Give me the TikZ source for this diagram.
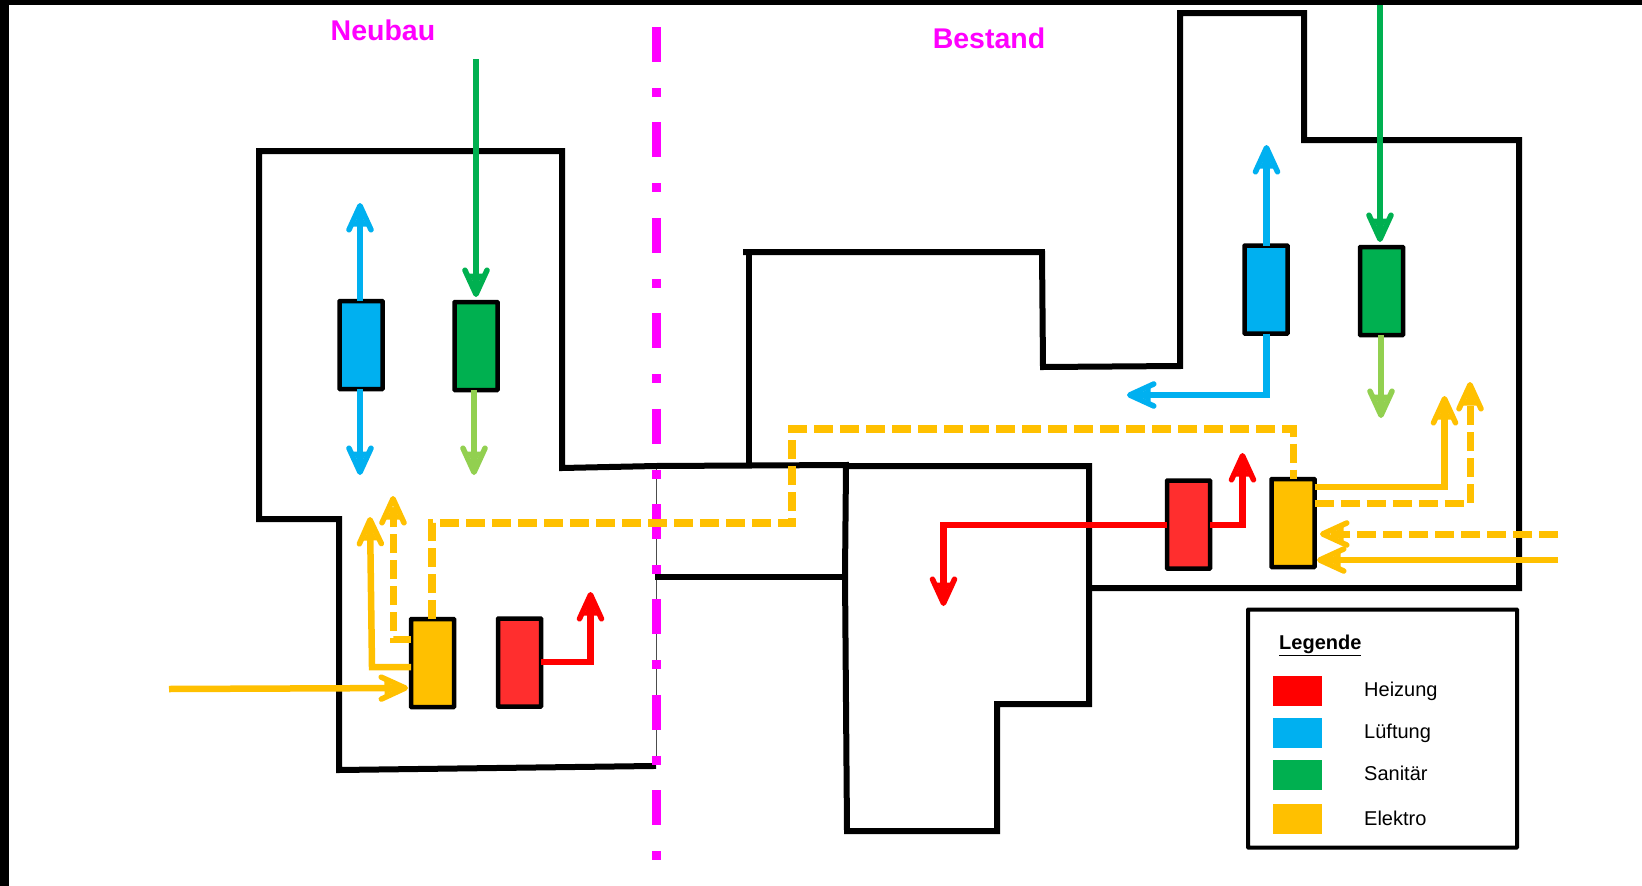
\documentclass[tikz,border=0pt]{standalone}
\usepackage{fontspec}
\setmainfont{Liberation Sans}
\usetikzlibrary{arrows.meta}
\definecolor{cBlue}{HTML}{00B0F0}
\definecolor{cGreen}{HTML}{00B050}
\definecolor{cLime}{HTML}{92D050}
\definecolor{cOrange}{HTML}{FFC000}
\definecolor{cRed}{HTML}{FF0000}
\definecolor{cRedBox}{HTML}{FF2E2E}
\definecolor{cMag}{HTML}{FF00FF}
\tikzset{
  wall/.style={line width=6pt,line join=miter,line cap=rect},
  unit/.style={draw=black,line width=4.5pt,rounded corners=0.5pt,inner sep=0pt,outer sep=0pt,minimum width=43pt,minimum height=88pt},
  pipe/.style={line width=6.5pt,line join=miter,-{Stealth[length=14pt,width=13pt,inset=0pt,sep=-20pt]Straight Barb[length=24pt,width=22pt,line width=5.5pt,round]}},
  edash/.style={dash pattern=on 19pt off 7pt},
  swatch/.style={inner sep=0pt,outer sep=0pt,minimum width=49pt,minimum height=30pt},
  legtext/.style={anchor=west,inner sep=0pt,font=\fontsize{20}{24}\selectfont},
  region/.style={text=cMag,inner sep=0pt,font=\bfseries\fontsize{28.5}{32}\selectfont}
}
\begin{document}
\begin{tikzpicture}[x=1pt,y=-1pt]
\path[use as bounding box,fill=white] (0,0) rectangle (1642,886);
\fill[black] (0,0) rectangle (9,886);
\fill[black] (0,0) rectangle (1642,4.7);
% thin line under the boundary
\draw[black!70,line width=1.2pt] (656.5,466) -- (656.5,765);
% walls
\draw[wall] (653,766) -- (339,770) -- (339,519) -- (259,519) -- (259,151) -- (561,151);
\draw[wall] (562,151) -- (562,468) -- (656,466) -- (846,465);
\draw[wall] (749,465) -- (749,252);
\draw[wall] (746,252) -- (1042,252) -- (1043,367) -- (1180,366) -- (1180,13) -- (1304,13) -- (1304,140) -- (1519,140) -- (1519,588) -- (1090,588);
\draw[wall] (846,466) -- (1089,466) -- (1089,704) -- (997,704) -- (997,831) -- (847,831) -- (845,575) -- cycle;
\draw[wall] (658,577) -- (845,577);
% boundary
\coordinate (bTop) at (656.5,27);
\coordinate (bEnd) at (656.5,861);
\draw[cMag,line width=8.5pt,dash pattern=on 35pt off 26pt on 9pt off 25.4pt] (bTop) -- (bEnd);
% labels
\node[region] (neubau) at (383,30) {Neubau};
\node[region] (bestand) at (989,38) {Bestand};
% units
\node[unit,fill=cBlue] (blueL) at (361,345) {};
\node[unit,fill=cGreen] (greenL) at (476,346) {};
\node[unit,fill=cOrange] (orangeL) at (432.5,663) {};
\node[unit,fill=cRedBox] (redL) at (519.5,662.5) {};
\node[unit,fill=cBlue] (blueR) at (1266,289.5) {};
\node[unit,fill=cGreen] (greenR) at (1381.5,291) {};
\node[unit,fill=cRedBox] (redR) at (1188.5,524.5) {};
\node[unit,fill=cOrange] (orangeR) at (1293,523) {};
% coordinates
\coordinate (a1) at (360,203);
\coordinate (a2) at (360,475);
\coordinate (a3s) at (476,59);
\coordinate (a3t) at (476,297);
\coordinate (a4) at (474,475);
\coordinate (e0) at (169,689);
\coordinate (e0t) at (408,688);
\coordinate (e1) at (372,667);
\coordinate (e1t) at (370,517);
\coordinate (e2) at (393,639);
\coordinate (e2t) at (393,496);
\coordinate (d1) at (432,523);
\coordinate (d2) at (792,523);
\coordinate (d3) at (792,429);
\coordinate (d4) at (1293.5,429);
\coordinate (r1) at (590.5,662);
\coordinate (r1t) at (590.5,592);
\coordinate (r2) at (943.5,525);
\coordinate (r2t) at (943.5,606);
\coordinate (r3) at (1242.5,525);
\coordinate (r3t) at (1242.5,453);
\coordinate (b1t) at (1266.5,145);
\coordinate (b2) at (1266.5,395);
\coordinate (b2t) at (1127,395);
\coordinate (g1s) at (1380,5);
\coordinate (g1t) at (1380,242);
\coordinate (l1t) at (1381,418);
\coordinate (o1) at (1444.5,487);
\coordinate (o1t) at (1444.5,396);
\coordinate (o2) at (1470,503);
\coordinate (o2t) at (1470,382);
\coordinate (i1s) at (1558,534);
\coordinate (i1t) at (1320,534);
\coordinate (i2s) at (1558,560);
\coordinate (i2t) at (1317,560);
% Neubau connectors
\draw[pipe,cBlue] (blueL.north -| a1) -- (a1);
\draw[pipe,cBlue] (blueL.south -| a2) -- (a2);
\draw[pipe,cGreen] (a3s) -- (a3t);
\draw[pipe,cLime] (greenL.south -| a4) -- (a4);
\draw[pipe,cOrange] (e0) -- (e0t);
\draw[pipe,cOrange] (orangeL.west |- e1) -- (e1) -- (e1t);
\draw[pipe,cOrange,edash,line width=7pt] (orangeL.west |- e2) -- (e2) -- (e2t);
\draw[cOrange,line width=7.5pt,edash,line join=miter] (orangeL.north -| d1) -- (d1) -- (d2) -- (d3) -- (d4) -- (orangeR.north -| d4);
\draw[pipe,cRed] (redL.east |- r1) -- (r1) -- (r1t);
% Bestand connectors
\draw[pipe,cRed] (redR.west |- r2) -- (r2) -- (r2t);
\draw[pipe,cRed] (redR.east |- r3) -- (r3) -- (r3t);
\draw[pipe,cBlue] (blueR.north -| b1t) -- (b1t);
\draw[pipe,cBlue] (blueR.south -| b2) -- (b2) -- (b2t);
\draw[pipe,cGreen] (g1s) -- (g1t);
\draw[pipe,cLime] (greenR.south -| l1t) -- (l1t);
\draw[pipe,cOrange] (orangeR.east |- o1) -- (o1) -- (o1t);
\draw[pipe,cOrange,edash,line width=7pt] (orangeR.east |- o2) -- (o2) -- (o2t);
\draw[pipe,cOrange,edash,line width=7pt] (i1s) -- (i1t);
\draw[pipe,cOrange] (i2s) -- (i2t);
% legend
\node[draw=black,line width=4pt,inner sep=0pt,minimum width=269pt,minimum height=238pt,rounded corners=0.5pt] (legend) at (1382.5,728.5) {};
\node[legtext,font=\bfseries\fontsize{20}{24}\selectfont] (legtitle) at (1279,645) {\underline{Legende}};
\node[swatch,fill=cRed] (s1) at (1297.5,691) {};
\node[swatch,fill=cBlue] (s2) at (1297.5,732.5) {};
\node[swatch,fill=cGreen] (s3) at (1297.5,774.5) {};
\node[swatch,fill=cOrange] (s4) at (1297.5,819) {};
\node[legtext] (t1) at (1364,691) {Heizung};
\node[legtext] (t2) at (1364,733) {Lüftung};
\node[legtext] (t3) at (1364,773) {Sanitär};
\node[legtext] (t4) at (1364,818) {Elektro};
\end{tikzpicture}
\end{document}
